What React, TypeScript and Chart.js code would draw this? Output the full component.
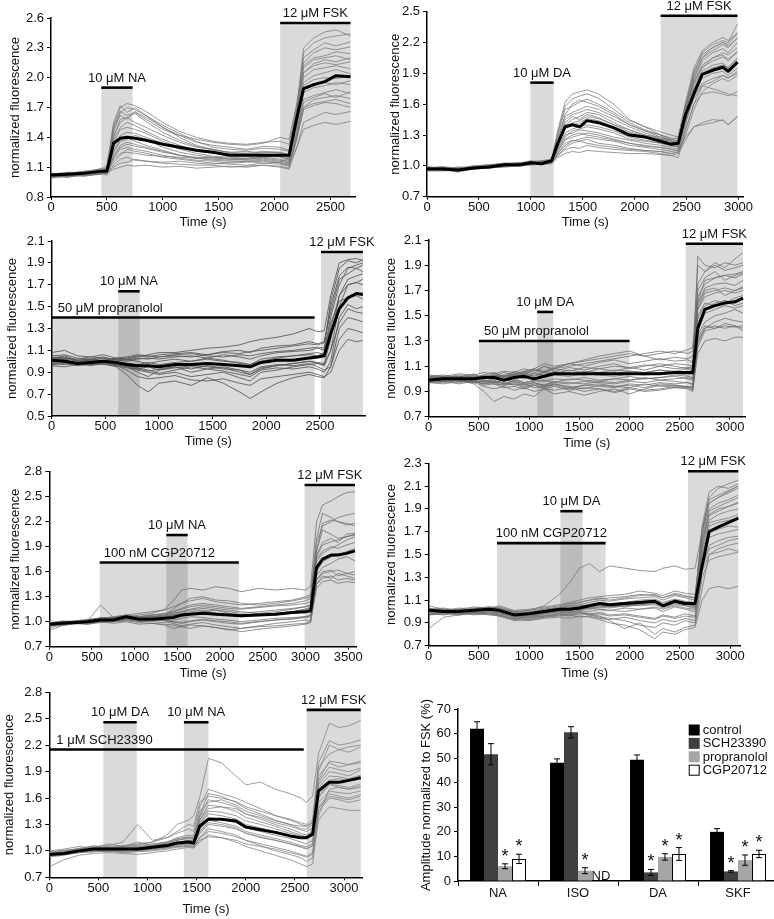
import React, { useEffect, useRef } from 'react';
import { Chart, registerables } from 'chart.js';

Chart.register(...registerables);

const FONT = '"Liberation Sans", Arial, Helvetica, sans-serif';
Chart.defaults.font.family = FONT;

// ---------------- Panel A: 10 µM NA (control) ----------------
const A_TIME = [0, 150, 300, 450, 500, 560, 620, 680, 750, 850, 1000, 1150, 1300, 1450, 1600, 1750, 1900, 2050, 2130, 2200, 2260, 2350, 2450, 2550, 2680];
const A_MEAN = [1.02, 1.03, 1.04, 1.06, 1.06, 1.34, 1.39, 1.40, 1.39, 1.37, 1.33, 1.30, 1.27, 1.25, 1.22, 1.22, 1.22, 1.22, 1.22, 1.60, 1.89, 1.93, 1.96, 2.02, 2.01];
const A_CELLS = [
  [1.00, 1.02, 1.05, 1.07, 1.10, 1.55, 1.72, 1.65, 1.70, 1.62, 1.50, 1.42, 1.35, 1.32, 1.30, 1.28, 1.31, 1.30, 1.27, 1.70, 2.30, 2.40, 2.46, 2.48, 2.42],
  [1.03, 1.04, 1.03, 1.06, 1.08, 1.40, 1.58, 1.60, 1.55, 1.50, 1.42, 1.35, 1.30, 1.28, 1.25, 1.24, 1.26, 1.25, 1.22, 1.65, 2.15, 2.25, 2.30, 2.28, 2.31],
  [1.00, 1.01, 1.03, 1.04, 1.02, 1.12, 1.18, 1.20, 1.17, 1.16, 1.15, 1.16, 1.14, 1.13, 1.15, 1.16, 1.14, 1.15, 1.13, 1.40, 1.70, 1.78, 1.80, 1.82, 1.79],
  [1.02, 1.00, 1.04, 1.05, 1.06, 1.30, 1.42, 1.45, 1.44, 1.40, 1.34, 1.28, 1.24, 1.21, 1.20, 1.19, 1.21, 1.20, 1.18, 1.55, 1.95, 2.02, 2.05, 2.08, 2.04],
  [1.01, 1.02, 1.02, 1.03, 1.05, 1.22, 1.32, 1.35, 1.33, 1.30, 1.26, 1.22, 1.20, 1.19, 1.18, 1.17, 1.18, 1.16, 1.14, 1.30, 1.48, 1.52, 1.55, 1.53, 1.56],
  [1.04, 1.03, 1.06, 1.08, 1.12, 1.50, 1.66, 1.62, 1.65, 1.58, 1.48, 1.42, 1.38, 1.35, 1.33, 1.32, 1.34, 1.40, 1.38, 1.75, 2.10, 2.18, 2.20, 2.22, 2.18],
  [1.00, 1.02, 1.01, 1.03, 1.04, 1.08, 1.10, 1.12, 1.11, 1.12, 1.10, 1.11, 1.09, 1.10, 1.11, 1.10, 1.12, 1.10, 1.08, 1.30, 1.55, 1.60, 1.65, 1.63, 1.66],
  [1.03, 1.05, 1.04, 1.09, 1.07, 1.38, 1.50, 1.55, 1.52, 1.46, 1.38, 1.32, 1.27, 1.24, 1.22, 1.21, 1.23, 1.22, 1.19, 1.52, 1.88, 1.92, 1.95, 1.93, 1.97],
  [1.02, 1.03, 1.02, 1.04, 1.06, 1.20, 1.28, 1.30, 1.28, 1.26, 1.22, 1.19, 1.17, 1.16, 1.14, 1.15, 1.16, 1.14, 1.12, 1.40, 1.68, 1.72, 1.75, 1.74, 1.70],
  [1.01, 1.00, 1.03, 1.05, 1.08, 1.45, 1.65, 1.70, 1.68, 1.62, 1.52, 1.44, 1.36, 1.30, 1.28, 1.27, 1.29, 1.28, 1.26, 1.68, 2.05, 2.12, 2.15, 2.13, 2.16],
  [1.02, 1.04, 1.05, 1.06, 1.09, 1.26, 1.38, 1.40, 1.36, 1.32, 1.27, 1.22, 1.19, 1.17, 1.16, 1.16, 1.17, 1.15, 1.20, 1.45, 1.78, 1.82, 1.85, 1.88, 1.84],
  [1.00, 1.01, 1.02, 1.03, 1.05, 1.18, 1.24, 1.25, 1.24, 1.22, 1.21, 1.20, 1.19, 1.20, 1.18, 1.19, 1.20, 1.18, 1.15, 1.65, 2.20, 2.28, 2.35, 2.32, 2.36],
  [1.01, 1.03, 1.02, 1.05, 1.07, 1.48, 1.62, 1.58, 1.66, 1.60, 1.50, 1.40, 1.32, 1.28, 1.24, 1.22, 1.25, 1.24, 1.21, 1.62, 2.12, 2.20, 2.22, 2.26, 2.24],
  [1.03, 1.02, 1.04, 1.07, 1.06, 1.25, 1.36, 1.38, 1.42, 1.38, 1.30, 1.25, 1.22, 1.20, 1.19, 1.18, 1.20, 1.21, 1.17, 1.50, 1.92, 1.98, 2.00, 1.99, 2.02],
  [0.99, 1.01, 1.03, 1.04, 1.05, 1.15, 1.22, 1.28, 1.26, 1.24, 1.20, 1.18, 1.16, 1.14, 1.13, 1.12, 1.14, 1.13, 1.11, 1.45, 1.85, 1.90, 1.92, 1.95, 1.93],
  [1.02, 1.04, 1.06, 1.05, 1.09, 1.52, 1.70, 1.74, 1.72, 1.66, 1.55, 1.46, 1.40, 1.36, 1.34, 1.33, 1.35, 1.36, 1.33, 1.72, 2.25, 2.35, 2.40, 2.42, 2.44],
  [1.00, 1.02, 1.01, 1.04, 1.06, 1.10, 1.14, 1.15, 1.18, 1.16, 1.14, 1.13, 1.12, 1.12, 1.10, 1.11, 1.12, 1.11, 1.09, 1.38, 1.70, 1.74, 1.76, 1.78, 1.74],
  [1.02, 1.03, 1.05, 1.06, 1.08, 1.35, 1.48, 1.50, 1.48, 1.44, 1.36, 1.30, 1.26, 1.24, 1.23, 1.24, 1.22, 1.23, 1.20, 1.58, 2.00, 2.08, 2.10, 2.12, 2.09],
  [1.01, 1.00, 1.02, 1.04, 1.03, 1.20, 1.30, 1.33, 1.31, 1.29, 1.25, 1.22, 1.19, 1.18, 1.17, 1.18, 1.19, 1.17, 1.16, 1.42, 1.75, 1.80, 1.84, 1.80, 1.86],
  [1.03, 1.04, 1.03, 1.05, 1.07, 1.42, 1.55, 1.60, 1.64, 1.56, 1.45, 1.37, 1.31, 1.27, 1.25, 1.26, 1.24, 1.25, 1.22, 1.60, 2.05, 2.14, 2.18, 2.16, 2.20],
];
const A_X_TICKS = [0, 500, 1000, 1500, 2000, 2500];
const A_Y_TICKS = [0.8, 1.1, 1.4, 1.7, 2.0, 2.3, 2.6];
const A_X_MAX = 2720;
const A_EVENTS = [
  { label: '10 μM NA', from: 450, to: 730, level: 1.9, shade: true, align: 'center' },
  { label: '12 μM FSK', from: 2050, to: 2680, level: 2.55, shade: true, align: 'center' },
];

// ---------------- Panel B: 10 µM DA (control) ----------------
const B_TIME = [0, 150, 300, 450, 600, 750, 900, 1000, 1100, 1200, 1260, 1330, 1400, 1470, 1540, 1650, 1800, 1950, 2100, 2250, 2350, 2420, 2490, 2570, 2650, 2750, 2850, 2900, 2990];
const B_MEAN = [0.97, 0.97, 0.96, 0.98, 0.99, 1.01, 1.01, 1.03, 1.02, 1.05, 1.22, 1.38, 1.40, 1.38, 1.44, 1.42, 1.37, 1.30, 1.28, 1.24, 1.21, 1.22, 1.50, 1.70, 1.89, 1.93, 1.96, 1.92, 2.01];
const B_CELLS = [
  [0.97, 0.98, 0.95, 0.99, 1.00, 1.02, 1.03, 1.04, 1.03, 1.06, 1.35, 1.62, 1.70, 1.72, 1.74, 1.70, 1.60, 1.45, 1.38, 1.30, 1.25, 1.28, 1.60, 1.85, 2.05, 2.15, 2.20, 2.18, 2.30],
  [0.99, 0.97, 0.98, 0.97, 1.00, 1.00, 1.02, 1.03, 1.04, 1.05, 1.30, 1.55, 1.58, 1.62, 1.65, 1.60, 1.52, 1.42, 1.35, 1.30, 1.26, 1.24, 1.55, 1.80, 1.95, 2.05, 2.10, 2.08, 2.15],
  [0.96, 0.96, 0.94, 0.97, 0.98, 1.00, 1.00, 1.01, 1.02, 1.03, 1.12, 1.22, 1.25, 1.24, 1.26, 1.22, 1.20, 1.17, 1.15, 1.14, 1.12, 1.13, 1.30, 1.55, 1.72, 1.80, 1.85, 1.82, 1.88],
  [0.98, 0.99, 0.97, 0.99, 1.01, 1.03, 1.02, 1.04, 1.03, 1.04, 1.20, 1.36, 1.40, 1.42, 1.46, 1.44, 1.38, 1.32, 1.28, 1.25, 1.22, 1.22, 1.48, 1.75, 1.90, 1.95, 1.98, 1.96, 2.05],
  [0.97, 0.96, 0.96, 0.98, 0.99, 1.00, 1.01, 1.02, 1.02, 1.03, 1.10, 1.16, 1.18, 1.17, 1.20, 1.18, 1.16, 1.15, 1.14, 1.12, 1.10, 1.12, 1.25, 1.38, 1.42, 1.45, 1.44, 1.40, 1.48],
  [0.98, 0.97, 0.99, 0.98, 1.00, 1.02, 1.02, 1.03, 1.05, 1.06, 1.28, 1.48, 1.52, 1.55, 1.58, 1.55, 1.48, 1.40, 1.34, 1.30, 1.27, 1.26, 1.58, 1.90, 2.10, 2.18, 2.22, 2.20, 2.38],
  [0.95, 0.95, 0.96, 0.97, 0.98, 0.99, 1.00, 1.02, 1.01, 1.02, 1.08, 1.12, 1.14, 1.13, 1.15, 1.14, 1.13, 1.12, 1.12, 1.11, 1.10, 1.08, 1.35, 1.60, 1.78, 1.82, 1.88, 1.85, 1.92],
  [0.97, 0.98, 0.96, 0.98, 0.99, 1.01, 1.02, 1.02, 1.03, 1.04, 1.25, 1.40, 1.45, 1.48, 1.52, 1.50, 1.42, 1.35, 1.30, 1.28, 1.24, 1.20, 1.45, 1.65, 1.78, 1.75, 1.72, 1.70, 1.68],
  [0.98, 0.99, 0.97, 1.00, 1.01, 1.02, 1.03, 1.05, 1.04, 1.06, 1.18, 1.30, 1.32, 1.35, 1.34, 1.32, 1.28, 1.25, 1.22, 1.20, 1.18, 1.20, 1.52, 1.82, 1.98, 2.05, 2.08, 2.02, 2.12],
  [0.96, 0.97, 0.95, 0.97, 0.99, 1.00, 1.01, 1.02, 1.03, 1.04, 1.15, 1.25, 1.28, 1.30, 1.32, 1.30, 1.26, 1.22, 1.20, 1.18, 1.16, 1.15, 1.40, 1.70, 1.85, 1.90, 1.92, 1.88, 1.95],
  [0.99, 0.98, 0.97, 0.99, 1.00, 1.01, 1.02, 1.03, 1.04, 1.05, 1.32, 1.58, 1.65, 1.68, 1.70, 1.66, 1.55, 1.44, 1.38, 1.33, 1.30, 1.28, 1.62, 1.95, 2.12, 2.20, 2.25, 2.22, 2.28],
  [0.97, 0.97, 0.96, 0.98, 0.99, 1.01, 1.01, 1.02, 1.02, 1.03, 1.12, 1.20, 1.24, 1.26, 1.28, 1.26, 1.24, 1.20, 1.18, 1.16, 1.14, 1.15, 1.28, 1.38, 1.40, 1.42, 1.45, 1.40, 1.48],
  [0.98, 0.97, 0.98, 0.99, 1.00, 1.01, 1.02, 1.03, 1.03, 1.05, 1.25, 1.45, 1.50, 1.52, 1.55, 1.52, 1.45, 1.38, 1.32, 1.27, 1.24, 1.23, 1.52, 1.85, 2.02, 2.10, 2.14, 2.10, 2.20],
  [0.96, 0.97, 0.95, 0.98, 0.99, 1.00, 1.01, 1.01, 1.02, 1.04, 1.18, 1.32, 1.36, 1.38, 1.40, 1.38, 1.34, 1.28, 1.25, 1.22, 1.20, 1.18, 1.45, 1.78, 1.92, 1.98, 2.00, 1.95, 2.04],
  [0.97, 0.98, 0.97, 0.98, 1.00, 1.01, 1.02, 1.02, 1.04, 1.05, 1.22, 1.42, 1.48, 1.45, 1.50, 1.47, 1.40, 1.33, 1.29, 1.26, 1.22, 1.25, 1.55, 1.88, 2.05, 2.12, 2.18, 2.15, 2.25],
  [0.99, 0.98, 0.97, 0.99, 1.00, 1.02, 1.02, 1.04, 1.03, 1.05, 1.14, 1.26, 1.30, 1.32, 1.30, 1.28, 1.25, 1.22, 1.19, 1.18, 1.16, 1.17, 1.42, 1.68, 1.80, 1.85, 1.88, 1.86, 1.90],
  [0.96, 0.96, 0.95, 0.97, 0.98, 0.99, 1.00, 1.01, 1.02, 1.03, 1.24, 1.50, 1.60, 1.64, 1.62, 1.58, 1.50, 1.40, 1.34, 1.28, 1.25, 1.22, 1.55, 1.82, 1.96, 2.02, 2.06, 2.04, 2.10],
  [0.98, 0.99, 0.98, 1.00, 1.01, 1.02, 1.03, 1.04, 1.05, 1.06, 1.16, 1.28, 1.34, 1.36, 1.38, 1.36, 1.32, 1.26, 1.24, 1.22, 1.20, 1.19, 1.50, 1.75, 1.88, 1.95, 1.98, 1.94, 2.00],
  [0.97, 0.96, 0.97, 0.98, 0.99, 1.00, 1.01, 1.02, 1.02, 1.04, 1.10, 1.18, 1.22, 1.24, 1.22, 1.20, 1.18, 1.16, 1.15, 1.14, 1.12, 1.14, 1.35, 1.60, 1.70, 1.72, 1.70, 1.68, 1.72],
  [0.98, 0.98, 0.97, 0.99, 1.00, 1.01, 1.02, 1.03, 1.03, 1.05, 1.20, 1.38, 1.42, 1.44, 1.48, 1.46, 1.40, 1.35, 1.30, 1.26, 1.24, 1.22, 1.58, 1.92, 2.08, 2.15, 2.20, 2.16, 2.24],
];
const B_X_TICKS = [0, 500, 1000, 1500, 2000, 2500, 3000];
const B_Y_TICKS = [0.7, 1.0, 1.3, 1.6, 1.9, 2.2, 2.5];
const B_X_MAX = 3050;
const B_EVENTS = [
  { label: '10 μM DA', from: 995, to: 1220, level: 1.81, shade: true, align: 'center' },
  { label: '12 μM FSK', from: 2250, to: 2990, level: 2.46, shade: true, align: 'center' },
];

// ---------------- Panel C: NA + 50 µM propranolol ----------------
const C_TIME = [0, 120, 240, 360, 480, 600, 700, 800, 900, 1000, 1150, 1300, 1450, 1600, 1750, 1850, 1950, 2100, 2250, 2400, 2480, 2540, 2600, 2680, 2760, 2840, 2900];
const C_MEAN = [1.01, 1.00, 0.98, 0.99, 1.00, 0.99, 0.97, 0.96, 0.96, 0.95, 0.97, 0.97, 0.98, 0.97, 0.96, 0.95, 0.99, 1.01, 1.01, 1.03, 1.04, 1.05, 1.25, 1.48, 1.58, 1.62, 1.61];
const C_CELLS = [
  [1.02, 1.04, 1.00, 1.01, 1.03, 1.00, 1.02, 1.04, 1.06, 1.08, 1.08, 1.10, 1.12, 1.13, 1.15, 1.18, 1.20, 1.22, 1.25, 1.30, 1.27, 1.28, 1.60, 1.90, 1.93, 1.94, 1.92],
  [0.98, 0.97, 0.99, 0.96, 0.98, 0.95, 0.88, 0.78, 0.72, 0.80, 0.82, 0.78, 0.85, 0.80, 0.72, 0.66, 0.72, 0.80, 0.85, 0.88, 0.86, 0.85, 0.95, 1.30, 1.40, 1.38, 1.36],
  [1.00, 1.02, 0.97, 0.98, 0.99, 0.97, 0.95, 0.92, 0.90, 0.88, 0.90, 0.86, 0.88, 0.90, 0.85, 0.82, 0.90, 0.92, 0.95, 0.97, 0.98, 0.96, 1.10, 1.50, 1.70, 1.72, 1.75],
  [1.03, 1.05, 1.01, 1.02, 1.00, 1.02, 1.03, 1.05, 1.04, 1.06, 1.07, 1.08, 1.06, 1.09, 1.10, 1.08, 1.12, 1.14, 1.15, 1.18, 1.16, 1.18, 1.45, 1.75, 1.80, 1.85, 1.82],
  [0.97, 0.98, 0.96, 0.97, 0.99, 0.96, 0.92, 0.86, 0.84, 0.85, 0.87, 0.83, 0.82, 0.84, 0.80, 0.78, 0.84, 0.86, 0.88, 0.90, 0.88, 0.86, 0.90, 1.10, 1.20, 1.18, 1.19],
  [1.05, 1.06, 1.03, 1.02, 1.04, 1.01, 1.00, 1.02, 1.03, 1.02, 1.04, 1.05, 1.03, 1.06, 1.04, 1.02, 1.05, 1.08, 1.09, 1.10, 1.12, 1.10, 1.40, 1.70, 1.85, 1.88, 1.90],
  [0.99, 1.00, 0.98, 0.97, 0.98, 0.97, 0.95, 0.90, 0.86, 0.92, 0.95, 0.90, 0.93, 0.95, 0.92, 0.88, 0.94, 0.96, 0.98, 1.00, 0.98, 0.97, 1.10, 1.35, 1.48, 1.45, 1.44],
  [1.08, 1.10, 1.05, 1.04, 1.06, 1.03, 1.02, 1.00, 0.98, 1.00, 1.02, 1.00, 1.03, 1.01, 0.98, 0.97, 1.00, 1.03, 1.05, 1.07, 1.08, 1.06, 1.30, 1.60, 1.70, 1.72, 1.70],
  [0.96, 0.95, 0.97, 0.98, 0.97, 0.96, 0.94, 0.93, 0.95, 0.92, 0.94, 0.96, 0.95, 0.93, 0.92, 0.90, 0.95, 0.97, 0.96, 0.98, 0.95, 0.92, 0.95, 1.20, 1.30, 1.28, 1.26],
  [1.01, 1.02, 1.00, 1.01, 1.00, 0.99, 0.98, 0.97, 0.99, 0.97, 0.99, 1.00, 1.02, 1.00, 0.99, 0.97, 1.02, 1.04, 1.05, 1.06, 1.05, 1.08, 1.35, 1.55, 1.58, 1.60, 1.57],
  [0.98, 0.99, 0.97, 1.00, 0.99, 0.98, 0.96, 0.94, 0.92, 0.89, 0.92, 0.95, 0.93, 0.91, 0.88, 0.86, 0.92, 0.94, 0.93, 0.95, 0.93, 0.90, 1.00, 1.40, 1.52, 1.48, 1.50],
  [1.02, 1.03, 1.01, 1.02, 1.01, 1.03, 1.04, 1.06, 1.05, 1.04, 1.06, 1.07, 1.05, 1.04, 1.06, 1.05, 1.07, 1.09, 1.10, 1.12, 1.13, 1.12, 1.55, 1.85, 1.92, 1.90, 1.93],
  [1.00, 1.01, 0.99, 1.00, 1.01, 0.99, 0.96, 0.93, 0.91, 0.93, 0.95, 0.93, 0.96, 0.94, 0.90, 0.88, 0.93, 0.96, 0.98, 1.00, 0.99, 0.98, 1.20, 1.60, 1.75, 1.78, 1.80],
  [1.04, 1.03, 1.02, 1.04, 1.03, 1.02, 1.01, 1.03, 1.02, 1.04, 1.05, 1.04, 1.06, 1.08, 1.07, 1.09, 1.10, 1.12, 1.14, 1.16, 1.15, 1.17, 1.50, 1.78, 1.86, 1.85, 1.88],
];
const C_X_TICKS = [0, 500, 1000, 1500, 2000, 2500];
const C_Y_TICKS = [0.5, 0.7, 0.9, 1.1, 1.3, 1.5, 1.7, 1.9, 2.1];
const C_X_MAX = 2920;
const C_EVENTS = [
  { label: '50 μM propranolol', from: 0, to: 2450, level: 1.40, shade: true, align: 'left', inset: 6 },
  { label: '10 μM NA', from: 620, to: 820, level: 1.64, shade: true, align: 'center' },
  { label: '12 μM FSK', from: 2510, to: 2900, level: 2.0, shade: true, align: 'center' },
];

// ---------------- Panel D: DA + 50 µM propranolol ----------------
const D_TIME = [0, 150, 300, 450, 550, 650, 750, 850, 950, 1050, 1150, 1250, 1400, 1550, 1700, 1850, 2000, 2150, 2300, 2450, 2580, 2630, 2680, 2750, 2850, 2950, 3050, 3130];
const D_MEAN = [0.99, 1.00, 1.00, 1.00, 1.01, 1.01, 0.99, 1.01, 1.02, 1.00, 1.02, 1.04, 1.04, 1.04, 1.04, 1.04, 1.04, 1.04, 1.04, 1.05, 1.05, 1.05, 1.40, 1.55, 1.58, 1.60, 1.61, 1.64];
const D_CELLS = [
  [1.00, 1.02, 0.99, 1.01, 1.03, 1.05, 1.02, 1.04, 1.06, 1.08, 1.12, 1.10, 1.12, 1.15, 1.18, 1.20, 1.22, 1.18, 1.20, 1.22, 1.20, 1.22, 1.90, 1.85, 1.92, 1.88, 1.95, 2.00],
  [0.98, 0.97, 0.99, 0.96, 0.90, 0.82, 0.86, 0.84, 0.88, 0.86, 0.92, 0.88, 0.90, 0.87, 0.90, 0.92, 0.88, 0.92, 0.95, 0.93, 0.94, 0.92, 1.20, 1.30, 1.32, 1.30, 1.33, 1.33],
  [1.02, 1.03, 1.01, 1.04, 1.00, 1.02, 1.05, 1.03, 1.06, 1.04, 1.10, 1.06, 1.09, 1.07, 1.10, 1.12, 1.08, 1.10, 1.12, 1.10, 1.08, 1.10, 1.65, 1.75, 1.80, 1.82, 1.83, 1.85],
  [0.97, 0.98, 0.96, 0.98, 0.96, 0.98, 0.97, 0.95, 0.96, 0.93, 0.94, 0.95, 0.92, 0.95, 0.94, 0.93, 0.96, 0.95, 0.97, 0.96, 0.97, 0.95, 1.30, 1.40, 1.42, 1.40, 1.42, 1.40],
  [1.01, 1.00, 1.02, 1.01, 1.03, 1.02, 1.00, 1.03, 1.05, 1.08, 1.06, 1.09, 1.12, 1.14, 1.16, 1.18, 1.20, 1.18, 1.15, 1.17, 1.16, 1.18, 1.55, 1.68, 1.70, 1.72, 1.70, 1.73],
  [0.99, 1.01, 0.98, 1.00, 0.99, 0.97, 0.99, 0.98, 0.96, 0.97, 0.95, 0.98, 0.97, 0.96, 0.98, 0.97, 0.99, 1.00, 1.01, 1.02, 1.00, 0.99, 1.50, 1.60, 1.58, 1.62, 1.60, 1.63],
  [0.98, 0.99, 1.00, 0.99, 1.01, 1.03, 1.02, 1.04, 1.01, 1.05, 1.03, 1.06, 1.04, 1.03, 1.05, 1.07, 1.06, 1.05, 1.07, 1.06, 1.08, 1.06, 1.70, 1.80, 1.85, 1.78, 1.82, 1.84],
  [1.01, 1.00, 0.99, 0.98, 0.95, 0.96, 0.93, 0.94, 0.92, 0.95, 0.93, 0.96, 0.94, 0.92, 0.95, 0.94, 0.93, 0.96, 0.94, 0.95, 0.93, 0.94, 1.35, 1.45, 1.50, 1.52, 1.55, 1.52],
  [1.00, 1.01, 1.02, 1.00, 1.02, 1.01, 1.03, 1.02, 1.04, 1.02, 1.05, 1.03, 1.02, 1.04, 1.03, 1.02, 1.04, 1.03, 1.05, 1.04, 1.03, 1.04, 1.97, 1.90, 1.88, 1.92, 1.90, 1.92],
  [0.99, 0.98, 1.00, 0.97, 0.99, 0.98, 0.96, 0.99, 0.97, 0.98, 0.99, 0.97, 1.00, 0.99, 0.98, 1.00, 0.99, 1.01, 0.99, 1.00, 1.01, 1.00, 1.45, 1.55, 1.60, 1.62, 1.58, 1.60],
  [1.02, 1.01, 1.03, 1.02, 1.00, 1.03, 1.01, 1.05, 1.03, 1.07, 1.05, 1.08, 1.10, 1.12, 1.14, 1.16, 1.18, 1.20, 1.22, 1.20, 1.23, 1.25, 1.60, 1.72, 1.75, 1.76, 1.74, 1.78],
  [0.97, 0.96, 0.98, 0.97, 0.94, 0.92, 0.94, 0.91, 0.93, 0.90, 0.92, 0.91, 0.93, 0.90, 0.92, 0.89, 0.92, 0.90, 0.91, 0.93, 0.92, 0.90, 1.25, 1.38, 1.40, 1.42, 1.41, 1.42],
  [1.00, 0.99, 1.01, 1.02, 1.00, 1.02, 1.01, 1.03, 1.00, 1.04, 1.02, 1.05, 1.03, 1.06, 1.05, 1.04, 1.06, 1.05, 1.07, 1.05, 1.06, 1.05, 1.55, 1.65, 1.68, 1.70, 1.68, 1.70],
  [0.98, 1.00, 0.99, 0.97, 0.98, 0.96, 0.95, 0.97, 0.94, 0.96, 0.95, 0.97, 0.96, 0.98, 0.97, 0.96, 0.98, 0.97, 0.99, 0.98, 0.97, 0.96, 1.38, 1.52, 1.55, 1.58, 1.56, 1.58],
  [1.03, 1.02, 1.04, 1.03, 1.05, 1.04, 1.06, 1.05, 1.08, 1.06, 1.10, 1.08, 1.12, 1.10, 1.13, 1.15, 1.12, 1.14, 1.16, 1.14, 1.15, 1.13, 1.75, 1.85, 1.90, 1.86, 1.88, 1.90],
  [0.99, 1.00, 0.98, 0.99, 0.97, 0.99, 0.96, 0.98, 0.95, 0.97, 0.94, 0.96, 0.93, 0.95, 0.96, 0.94, 0.95, 0.93, 0.96, 0.95, 0.94, 0.93, 1.28, 1.40, 1.45, 1.48, 1.46, 1.45],
  [1.01, 1.02, 1.00, 1.03, 1.01, 1.04, 1.02, 1.06, 1.04, 1.07, 1.05, 1.08, 1.06, 1.09, 1.08, 1.10, 1.09, 1.11, 1.10, 1.12, 1.11, 1.10, 1.62, 1.78, 1.80, 1.82, 1.80, 1.83],
  [0.97, 0.98, 0.99, 0.98, 0.96, 0.97, 0.95, 0.96, 0.93, 0.95, 0.92, 0.94, 0.91, 0.93, 0.92, 0.90, 0.93, 0.91, 0.92, 0.94, 0.93, 0.91, 1.32, 1.42, 1.40, 1.44, 1.42, 1.38],
  [1.02, 1.01, 1.02, 1.00, 1.02, 1.00, 1.03, 1.01, 1.05, 1.02, 1.06, 1.04, 1.07, 1.05, 1.08, 1.06, 1.09, 1.07, 1.10, 1.08, 1.09, 1.08, 1.58, 1.70, 1.72, 1.66, 1.70, 1.72],
  [0.98, 0.99, 0.97, 0.99, 0.98, 1.00, 0.98, 1.00, 0.97, 0.99, 0.98, 1.00, 0.99, 1.01, 0.99, 1.00, 1.02, 1.00, 1.01, 1.03, 1.02, 1.01, 1.48, 1.58, 1.62, 1.60, 1.64, 1.66],
];
const D_X_TICKS = [0, 500, 1000, 1500, 2000, 2500, 3000];
const D_Y_TICKS = [0.7, 0.9, 1.1, 1.3, 1.5, 1.7, 1.9, 2.1];
const D_X_MAX = 3150;
const D_EVENTS = [
  { label: '50 μM propranolol', from: 500, to: 2000, level: 1.30, shade: true, align: 'left', inset: 5 },
  { label: '10 μM DA', from: 1080, to: 1240, level: 1.53, shade: true, align: 'center' },
  { label: '12 μM FSK', from: 2560, to: 3130, level: 2.07, shade: true, align: 'center' },
];

// ---------------- Panel E: NA + 100 nM CGP20712 ----------------
const E_TIME = [0, 150, 300, 450, 600, 750, 900, 1050, 1200, 1350, 1450, 1550, 1650, 1800, 1950, 2100, 2250, 2450, 2650, 2850, 3000, 3060, 3130, 3200, 3300, 3380, 3480, 3580];
const E_MEAN = [0.97, 0.98, 0.99, 1.00, 1.02, 1.02, 1.06, 1.03, 1.03, 1.04, 1.05, 1.08, 1.09, 1.10, 1.09, 1.08, 1.07, 1.08, 1.09, 1.11, 1.12, 1.13, 1.65, 1.75, 1.80, 1.80, 1.82, 1.85];
const E_CELLS = [
  [0.95, 0.97, 1.00, 0.99, 1.02, 1.04, 1.05, 1.08, 1.10, 1.15, 1.25, 1.38, 1.40, 1.38, 1.42, 1.40, 1.36, 1.40, 1.38, 1.40, 1.38, 1.42, 2.20, 2.40, 2.45, 2.50, 2.55, 2.56],
  [0.97, 0.99, 0.98, 1.01, 1.03, 1.02, 1.05, 1.04, 1.06, 1.07, 1.15, 1.22, 1.28, 1.30, 1.26, 1.25, 1.22, 1.20, 1.22, 1.25, 1.28, 1.30, 1.95, 2.15, 2.20, 2.25, 2.28, 2.30],
  [0.90, 0.95, 0.98, 0.97, 1.00, 0.98, 1.00, 0.97, 0.98, 0.96, 0.92, 0.94, 0.96, 0.95, 0.93, 0.90, 0.92, 0.94, 0.95, 0.97, 0.98, 1.00, 1.40, 1.48, 1.50, 1.46, 1.48, 1.47],
  [0.98, 1.00, 0.99, 1.02, 1.04, 1.05, 1.08, 1.06, 1.08, 1.10, 1.12, 1.15, 1.18, 1.20, 1.18, 1.16, 1.15, 1.17, 1.19, 1.20, 1.22, 1.24, 1.80, 1.95, 2.00, 1.95, 2.05, 2.06],
  [0.96, 0.98, 0.97, 0.99, 1.00, 1.01, 1.03, 1.00, 1.01, 1.02, 1.00, 0.98, 1.00, 1.02, 1.00, 0.98, 0.97, 1.00, 1.02, 1.03, 1.05, 1.06, 1.45, 1.55, 1.52, 1.58, 1.55, 1.52],
  [0.97, 0.99, 1.01, 1.00, 1.05, 1.03, 1.07, 1.05, 1.06, 1.08, 1.10, 1.12, 1.15, 1.18, 1.16, 1.14, 1.12, 1.10, 1.08, 1.12, 1.15, 1.18, 1.75, 1.85, 1.90, 1.88, 1.92, 1.95],
  [0.93, 0.96, 0.98, 0.99, 1.01, 1.02, 1.04, 1.02, 1.03, 1.01, 0.98, 0.95, 0.97, 0.99, 0.96, 0.94, 0.92, 0.95, 0.98, 1.00, 1.02, 1.01, 1.50, 1.60, 1.62, 1.55, 1.58, 1.60],
  [0.98, 1.00, 1.01, 1.03, 1.04, 1.06, 1.08, 1.10, 1.12, 1.14, 1.18, 1.22, 1.25, 1.28, 1.24, 1.22, 1.20, 1.22, 1.24, 1.26, 1.30, 1.32, 2.00, 2.30, 2.25, 2.20, 2.18, 2.15],
  [0.96, 0.97, 0.99, 0.98, 1.00, 1.00, 1.02, 1.01, 1.00, 0.99, 1.02, 1.04, 1.06, 1.05, 1.03, 1.02, 1.00, 1.02, 1.04, 1.05, 1.06, 1.08, 1.55, 1.65, 1.70, 1.75, 1.78, 1.73],
  [0.99, 1.01, 1.00, 1.02, 1.05, 1.04, 1.06, 1.05, 1.07, 1.06, 1.08, 1.10, 1.12, 1.14, 1.10, 1.08, 1.06, 1.08, 1.10, 1.12, 1.15, 1.16, 1.72, 1.82, 1.88, 1.92, 1.98, 2.02],
  [0.95, 0.96, 0.98, 0.97, 0.99, 1.00, 1.01, 0.99, 0.98, 0.97, 0.96, 0.94, 0.92, 0.95, 0.93, 0.91, 0.88, 0.91, 0.93, 0.95, 0.97, 0.99, 1.45, 1.52, 1.55, 1.50, 1.52, 1.50],
  [0.97, 0.98, 1.00, 1.01, 1.20, 1.05, 1.06, 1.04, 1.05, 1.06, 1.08, 1.06, 1.10, 1.12, 1.14, 1.10, 1.08, 1.10, 1.12, 1.15, 1.18, 1.20, 1.85, 2.10, 2.05, 2.00, 2.02, 2.04],
  [0.96, 0.98, 0.99, 1.00, 1.02, 1.03, 1.05, 1.04, 1.05, 1.06, 1.06, 1.08, 1.10, 1.12, 1.10, 1.08, 1.06, 1.08, 1.10, 1.12, 1.14, 1.15, 1.60, 1.72, 1.78, 1.80, 1.84, 1.88],
  [0.98, 0.99, 1.00, 1.02, 1.03, 1.05, 1.07, 1.06, 1.08, 1.09, 1.12, 1.16, 1.20, 1.22, 1.20, 1.18, 1.16, 1.18, 1.20, 1.22, 1.25, 1.28, 1.85, 2.18, 2.22, 2.20, 2.16, 2.18],
  [0.95, 0.97, 0.98, 0.99, 1.01, 1.01, 1.03, 1.02, 1.03, 1.02, 1.00, 0.99, 1.01, 1.03, 1.01, 1.00, 0.98, 1.00, 1.02, 1.04, 1.06, 1.07, 1.50, 1.58, 1.60, 1.62, 1.58, 1.56],
  [0.97, 0.98, 1.00, 1.01, 1.03, 1.04, 1.06, 1.05, 1.06, 1.07, 1.09, 1.12, 1.14, 1.16, 1.14, 1.12, 1.10, 1.12, 1.14, 1.16, 1.18, 1.20, 1.78, 1.92, 1.96, 1.98, 2.02, 2.05],
];
const E_X_TICKS = [0, 500, 1000, 1500, 2000, 2500, 3000, 3500];
const E_Y_TICKS = [0.7, 1.0, 1.3, 1.6, 1.9, 2.2, 2.5, 2.8];
const E_X_MAX = 3600;
const E_EVENTS = [
  { label: '100 nM CGP20712', from: 590, to: 2220, level: 1.71, shade: true, align: 'left', inset: 4 },
  { label: '10 μM NA', from: 1370, to: 1620, level: 2.04, shade: true, align: 'center' },
  { label: '12 μM FSK', from: 2990, to: 3580, level: 2.64, shade: true, align: 'center' },
];

// ---------------- Panel F: DA + 100 nM CGP20712 ----------------
const F_TIME = [0, 150, 300, 450, 600, 700, 850, 1000, 1150, 1300, 1400, 1500, 1600, 1700, 1800, 1950, 2100, 2250, 2330, 2450, 2550, 2650, 2720, 2790, 2880, 2980, 3080];
const F_MEAN = [1.01, 1.00, 1.00, 1.01, 1.02, 1.01, 0.97, 0.98, 1.00, 1.02, 1.02, 1.03, 1.05, 1.07, 1.06, 1.07, 1.08, 1.09, 1.05, 1.09, 1.07, 1.07, 1.40, 1.70, 1.74, 1.78, 1.82];
const F_CELLS = [
  [1.00, 1.01, 1.02, 1.00, 1.03, 1.02, 1.00, 1.01, 1.05, 1.15, 1.25, 1.38, 1.42, 1.35, 1.40, 1.38, 1.36, 1.35, 1.38, 1.40, 1.37, 1.38, 1.70, 1.95, 2.00, 2.05, 2.10],
  [1.05, 1.02, 1.00, 1.02, 1.01, 1.04, 1.00, 0.99, 1.02, 1.04, 1.06, 1.08, 1.10, 1.12, 1.10, 1.12, 1.14, 1.15, 1.12, 1.16, 1.14, 1.12, 1.70, 2.00, 2.08, 2.12, 2.15],
  [0.85, 0.95, 0.97, 0.99, 0.98, 1.00, 0.95, 0.94, 0.96, 0.98, 0.97, 0.99, 0.98, 0.96, 0.92, 0.85, 0.90, 0.80, 0.85, 0.82, 0.86, 0.88, 1.20, 1.50, 1.55, 1.58, 1.60],
  [1.00, 0.99, 1.01, 0.98, 1.00, 0.99, 0.96, 0.95, 0.98, 1.00, 1.01, 1.03, 1.02, 1.04, 1.05, 1.04, 1.06, 1.07, 1.05, 1.08, 1.06, 1.05, 1.60, 1.85, 1.90, 1.92, 1.95],
  [0.98, 0.97, 0.99, 0.97, 0.98, 0.97, 0.93, 0.92, 0.94, 0.95, 0.94, 0.96, 0.95, 0.93, 0.90, 0.88, 0.84, 0.76, 0.82, 0.80, 0.84, 0.86, 1.10, 1.20, 1.22, 1.20, 1.22],
  [1.02, 1.03, 1.01, 1.03, 1.04, 1.03, 0.99, 1.00, 1.02, 1.03, 1.05, 1.06, 1.08, 1.10, 1.09, 1.11, 1.12, 1.13, 1.10, 1.14, 1.12, 1.10, 1.75, 2.05, 2.10, 2.08, 2.12],
  [0.99, 1.00, 0.98, 1.00, 0.99, 0.98, 0.95, 0.96, 0.97, 0.99, 1.00, 1.01, 1.00, 1.02, 1.01, 1.00, 1.02, 1.03, 1.00, 1.04, 1.02, 1.00, 1.50, 1.70, 1.72, 1.75, 1.74],
  [1.01, 1.02, 1.00, 1.01, 1.02, 1.00, 0.97, 0.98, 0.99, 1.01, 1.03, 1.02, 1.04, 1.06, 1.04, 1.05, 1.07, 1.08, 1.06, 1.08, 1.07, 1.05, 1.55, 1.78, 1.80, 1.82, 1.85],
  [0.97, 0.98, 0.99, 0.98, 1.00, 0.97, 0.94, 0.93, 0.95, 0.96, 0.97, 0.95, 0.96, 0.94, 0.93, 0.95, 0.92, 0.90, 0.93, 0.91, 0.94, 0.92, 1.35, 1.50, 1.52, 1.55, 1.53],
  [1.03, 1.01, 1.02, 1.04, 1.03, 1.05, 1.01, 1.02, 1.04, 1.06, 1.08, 1.10, 1.12, 1.13, 1.14, 1.15, 1.18, 1.16, 1.14, 1.18, 1.16, 1.15, 1.65, 1.90, 1.95, 1.98, 2.02],
  [1.00, 1.00, 1.01, 0.99, 1.01, 1.00, 0.98, 0.97, 0.99, 1.00, 0.99, 1.01, 1.03, 1.02, 1.01, 1.03, 1.02, 1.04, 1.02, 1.05, 1.03, 1.02, 1.45, 1.65, 1.68, 1.70, 1.72],
  [0.98, 0.99, 0.97, 0.99, 0.98, 0.96, 0.93, 0.95, 0.96, 0.98, 0.99, 1.00, 0.98, 0.99, 0.97, 0.98, 0.96, 0.94, 0.97, 0.95, 0.98, 0.96, 1.40, 1.58, 1.62, 1.65, 1.66],
  [1.01, 1.00, 1.02, 1.01, 1.02, 1.01, 0.98, 0.99, 1.01, 1.03, 1.04, 1.05, 1.06, 1.08, 1.07, 1.08, 1.10, 1.11, 1.08, 1.11, 1.09, 1.08, 1.60, 1.88, 1.92, 1.96, 2.00],
  [0.99, 0.98, 1.00, 0.99, 1.00, 0.98, 0.96, 0.97, 0.98, 1.00, 1.01, 1.02, 1.03, 1.04, 1.03, 1.05, 1.06, 1.07, 1.04, 1.07, 1.05, 1.04, 1.52, 1.75, 1.78, 1.80, 1.82],
  [1.02, 1.01, 1.00, 1.02, 1.01, 1.02, 0.99, 0.98, 1.00, 1.01, 1.02, 1.04, 1.05, 1.06, 1.05, 1.06, 1.08, 1.09, 1.06, 1.10, 1.08, 1.06, 1.68, 1.95, 2.00, 2.04, 2.08],
  [0.97, 0.98, 0.97, 0.98, 0.97, 0.96, 0.92, 0.93, 0.95, 0.97, 0.96, 0.98, 0.97, 0.95, 0.94, 0.92, 0.88, 0.86, 0.90, 0.88, 0.92, 0.90, 1.30, 1.45, 1.48, 1.50, 1.52],
  [1.00, 1.01, 0.99, 1.00, 1.01, 0.99, 0.97, 0.96, 0.98, 1.00, 1.02, 1.03, 1.04, 1.05, 1.04, 1.06, 1.05, 1.06, 1.03, 1.06, 1.05, 1.03, 1.58, 1.80, 1.85, 1.88, 1.90],
  [1.01, 1.02, 1.01, 1.02, 1.03, 1.02, 0.98, 0.99, 1.01, 1.02, 1.03, 1.04, 1.06, 1.07, 1.06, 1.08, 1.09, 1.10, 1.07, 1.10, 1.08, 1.07, 1.62, 1.84, 1.88, 1.92, 1.96],
  [0.98, 0.99, 0.98, 0.99, 0.98, 0.97, 0.94, 0.95, 0.96, 0.97, 0.98, 0.99, 0.97, 0.98, 0.96, 0.97, 0.95, 0.93, 0.96, 0.94, 0.96, 0.95, 1.38, 1.55, 1.58, 1.62, 1.64],
  [1.02, 1.01, 1.03, 1.02, 1.04, 1.03, 1.00, 1.01, 1.03, 1.05, 1.07, 1.08, 1.10, 1.11, 1.12, 1.13, 1.15, 1.14, 1.12, 1.15, 1.13, 1.12, 1.72, 1.98, 2.02, 2.06, 2.10],
];
const F_X_TICKS = [0, 500, 1000, 1500, 2000, 2500, 3000];
const F_Y_TICKS = [0.7, 0.9, 1.1, 1.3, 1.5, 1.7, 1.9, 2.1, 2.3];
const F_X_MAX = 3100;
const F_EVENTS = [
  { label: '100 nM CGP20712', from: 680, to: 1760, level: 1.60, shade: true, align: 'center' },
  { label: '10 μM DA', from: 1310, to: 1530, level: 1.88, shade: true, align: 'center' },
  { label: '12 μM FSK', from: 2580, to: 3080, level: 2.23, shade: true, align: 'center' },
];

// ---------------- Panel G: DA, NA + 1 µM SCH23390 ----------------
const G_TIME = [0, 150, 300, 450, 600, 750, 900, 1050, 1200, 1300, 1420, 1470, 1530, 1620, 1750, 1900, 2000, 2150, 2300, 2450, 2560, 2620, 2680, 2740, 2850, 2950, 3050, 3170];
const G_MEAN = [0.96, 0.97, 1.00, 1.02, 1.02, 1.02, 1.02, 1.04, 1.06, 1.09, 1.10, 1.09, 1.28, 1.36, 1.36, 1.34, 1.27, 1.24, 1.21, 1.17, 1.15, 1.15, 1.19, 1.68, 1.78, 1.78, 1.80, 1.83];
const G_CELLS = [
  [0.95, 0.98, 1.02, 1.04, 1.05, 1.06, 1.07, 1.10, 1.18, 1.30, 1.35, 1.40, 1.60, 2.05, 2.00, 1.85, 1.75, 1.78, 1.70, 1.65, 1.60, 1.55, 1.62, 2.10, 2.45, 2.40, 2.42, 2.48],
  [0.97, 0.98, 1.01, 1.03, 1.04, 1.02, 1.03, 1.05, 1.08, 1.12, 1.15, 1.14, 1.40, 1.65, 1.62, 1.55, 1.48, 1.42, 1.35, 1.30, 1.25, 1.25, 1.30, 1.90, 2.20, 2.15, 2.18, 2.20],
  [0.82, 0.90, 0.95, 0.97, 0.98, 0.97, 0.96, 0.98, 1.00, 1.02, 1.04, 1.03, 1.10, 1.18, 1.15, 1.10, 1.05, 1.00, 0.95, 0.90, 0.85, 0.82, 0.85, 1.40, 1.70, 1.72, 1.70, 1.74],
  [1.00, 1.02, 1.05, 1.03, 1.08, 1.05, 1.10, 1.06, 1.10, 1.15, 1.18, 1.17, 1.45, 1.55, 1.58, 1.52, 1.45, 1.40, 1.34, 1.30, 1.28, 1.28, 1.32, 1.85, 2.00, 1.95, 1.98, 2.00],
  [0.93, 0.95, 0.98, 0.99, 1.00, 1.01, 1.00, 1.02, 1.04, 1.06, 1.08, 1.07, 1.20, 1.30, 1.28, 1.25, 1.20, 1.15, 1.12, 1.08, 1.05, 1.03, 1.06, 1.50, 1.65, 1.62, 1.60, 1.64],
  [0.98, 1.00, 1.03, 1.05, 1.06, 1.10, 1.30, 1.12, 1.15, 1.20, 1.25, 1.22, 1.50, 1.70, 1.65, 1.60, 1.55, 1.48, 1.40, 1.36, 1.32, 1.30, 1.35, 1.95, 2.10, 2.15, 2.12, 2.18],
  [0.96, 0.97, 0.99, 1.01, 1.00, 0.98, 0.99, 1.00, 1.02, 1.04, 1.05, 1.04, 1.15, 1.22, 1.20, 1.16, 1.12, 1.06, 1.00, 0.96, 0.92, 0.88, 0.92, 1.35, 1.50, 1.48, 1.46, 1.46],
  [0.95, 0.98, 1.00, 1.02, 1.03, 1.04, 1.05, 1.07, 1.10, 1.14, 1.16, 1.15, 1.35, 1.48, 1.50, 1.48, 1.42, 1.38, 1.32, 1.28, 1.24, 1.22, 1.26, 1.75, 1.90, 1.88, 1.85, 1.92],
  [0.99, 1.01, 1.02, 1.04, 1.02, 1.03, 1.04, 1.06, 1.08, 1.10, 1.12, 1.11, 1.30, 1.42, 1.40, 1.36, 1.30, 1.26, 1.22, 1.18, 1.15, 1.14, 1.18, 1.70, 1.80, 1.82, 1.80, 1.85],
  [0.94, 0.96, 0.98, 1.00, 0.99, 1.00, 1.01, 1.03, 1.05, 1.08, 1.10, 1.09, 1.25, 1.35, 1.32, 1.28, 1.22, 1.18, 1.14, 1.10, 1.06, 1.05, 1.08, 1.60, 1.75, 1.72, 1.70, 1.72],
  [0.97, 0.99, 1.02, 1.06, 1.03, 1.05, 1.08, 1.10, 1.15, 1.22, 1.30, 1.28, 1.55, 1.62, 1.60, 1.56, 1.50, 1.45, 1.40, 1.35, 1.30, 1.28, 1.32, 2.00, 2.25, 2.20, 2.22, 2.26],
  [0.96, 0.98, 1.00, 1.01, 1.01, 1.02, 1.02, 1.03, 1.04, 1.05, 1.06, 1.05, 1.12, 1.16, 1.15, 1.12, 1.08, 1.05, 1.02, 0.98, 0.95, 0.93, 0.96, 1.45, 1.60, 1.58, 1.55, 1.58],
  [0.97, 0.99, 1.01, 1.02, 1.03, 1.02, 1.03, 1.05, 1.08, 1.10, 1.12, 1.11, 1.32, 1.45, 1.44, 1.40, 1.34, 1.30, 1.25, 1.20, 1.17, 1.16, 1.20, 1.72, 1.85, 1.84, 1.82, 1.86],
  [0.95, 0.97, 0.99, 1.00, 1.01, 1.00, 1.01, 1.02, 1.04, 1.07, 1.08, 1.07, 1.22, 1.32, 1.30, 1.26, 1.20, 1.16, 1.12, 1.08, 1.04, 1.02, 1.06, 1.55, 1.68, 1.66, 1.65, 1.68],
  [0.98, 1.00, 1.02, 1.03, 1.04, 1.05, 1.06, 1.08, 1.10, 1.13, 1.15, 1.14, 1.38, 1.58, 1.55, 1.50, 1.42, 1.36, 1.30, 1.25, 1.20, 1.18, 1.22, 1.78, 1.95, 1.92, 1.90, 1.94],
  [0.96, 0.97, 0.99, 1.01, 1.00, 1.01, 1.02, 1.04, 1.06, 1.08, 1.10, 1.09, 1.25, 1.38, 1.36, 1.32, 1.26, 1.22, 1.18, 1.14, 1.10, 1.08, 1.12, 1.62, 1.76, 1.74, 1.72, 1.76],
  [0.97, 0.98, 1.00, 1.02, 1.02, 1.03, 1.04, 1.06, 1.09, 1.12, 1.14, 1.13, 1.35, 1.52, 1.50, 1.45, 1.38, 1.33, 1.28, 1.22, 1.18, 1.16, 1.20, 1.80, 2.02, 2.00, 1.98, 2.02],
  [0.94, 0.96, 0.98, 0.99, 1.00, 0.99, 1.00, 1.01, 1.03, 1.05, 1.06, 1.05, 1.15, 1.25, 1.22, 1.18, 1.12, 1.08, 1.04, 1.00, 0.96, 0.94, 0.98, 1.48, 1.62, 1.60, 1.58, 1.62],
];
const G_X_TICKS = [0, 500, 1000, 1500, 2000, 2500, 3000];
const G_Y_TICKS = [0.7, 1.0, 1.3, 1.6, 1.9, 2.2, 2.5, 2.8];
const G_X_MAX = 3190;
const G_EVENTS = [
  { label: '1 μM SCH23390', from: 0, to: 2590, level: 2.15, shade: false, align: 'left', inset: 7 },
  { label: '10 μM DA', from: 550, to: 890, level: 2.46, shade: true, align: 'center' },
  { label: '10 μM NA', from: 1370, to: 1620, level: 2.46, shade: true, align: 'center' },
  { label: '12 μM FSK', from: 2620, to: 3170, level: 2.6, shade: true, align: 'center' },
];

// ---------------- Panel H: amplitude bar chart ----------------
const BAR_CATEGORIES = ['NA', 'ISO', 'DA', 'SKF'];
const BAR_SERIES = ['control', 'SCH23390', 'propranolol', 'CGP20712'];
const CONTROL_VALUES = [62.0, 48.1, 49.3, 20.0];
const CONTROL_ERRORS = [2.8, 1.6, 2.0, 1.3];
const SCH_VALUES = [51.6, 60.5, 3.5, 3.9];
const SCH_ERRORS = [4.3, 2.3, 1.2, 0.3];
const PROP_VALUES = [6.0, 4.2, 9.8, 8.5];
const PROP_ERRORS = [1.0, 1.2, 1.3, 2.1];
const CGP_VALUES: (number | null)[] = [9.0, null, 11.0, 11.0];
const CGP_ERRORS: (number | null)[] = [1.9, null, 2.6, 1.5];
const CONTROL_STARS = [false, false, false, false];
const SCH_STARS = [false, false, true, true];
const PROP_STARS = [true, true, true, true];
const CGP_STARS = [true, false, true, true];
const BAR_Y_TICKS = [0, 10, 20, 30, 40, 50, 60, 70];

// ---------------- layout & style (not data) ----------------
const SHADE = 'rgba(0,0,0,0.145)';
const TEXT = '#111';
const BAR_FILLS = ['#000000', '#404040', '#a6a6a6', '#ffffff'];

type Ev = { label: string; from: number; to: number; level: number; shade: boolean; align: string; inset?: number };
type Box = { x: number; y: number; w: number; h: number };
type Area = { l: number; t: number; r: number; b: number };
type TracePanel = {
  time: number[]; mean: number[]; cells: number[][]; xTicks: number[]; yTicks: number[]; xMax: number; events: Ev[];
  box: Box; area: Area; yTitleX: number; xTitleY: number; cellColor: string;
};

const PANELS: TracePanel[] = [
  { time: A_TIME, mean: A_MEAN, cells: A_CELLS, xTicks: A_X_TICKS, yTicks: A_Y_TICKS, xMax: A_X_MAX, events: A_EVENTS,
    box: { x: 0, y: 0, w: 387, h: 232 }, area: { l: 51, t: 18, r: 355, b: 197 }, yTitleX: 15.5, xTitleY: 222, cellColor: 'rgba(120,120,120,0.75)' },
  { time: B_TIME, mean: B_MEAN, cells: B_CELLS, xTicks: B_X_TICKS, yTicks: B_Y_TICKS, xMax: B_X_MAX, events: B_EVENTS,
    box: { x: 387, y: 0, w: 387, h: 232 }, area: { l: 427, t: 11.7, r: 743.7, b: 196.7 }, yTitleX: 395, xTitleY: 222, cellColor: 'rgba(120,120,120,0.75)' },
  { time: C_TIME, mean: C_MEAN, cells: C_CELLS, xTicks: C_X_TICKS, yTicks: C_Y_TICKS, xMax: C_X_MAX, events: C_EVENTS,
    box: { x: 0, y: 226, w: 387, h: 226 }, area: { l: 51.7, t: 241, r: 365, b: 416 }, yTitleX: 12.5, xTitleY: 441.7, cellColor: 'rgba(85,85,85,0.85)' },
  { time: D_TIME, mean: D_MEAN, cells: D_CELLS, xTicks: D_X_TICKS, yTicks: D_Y_TICKS, xMax: D_X_MAX, events: D_EVENTS,
    box: { x: 387, y: 226, w: 387, h: 226 }, area: { l: 428.7, t: 240, r: 745, b: 416.7 }, yTitleX: 391, xTitleY: 443, cellColor: 'rgba(105,105,105,0.75)' },
  { time: E_TIME, mean: E_MEAN, cells: E_CELLS, xTicks: E_X_TICKS, yTicks: E_Y_TICKS, xMax: E_X_MAX, events: E_EVENTS,
    box: { x: 0, y: 455, w: 387, h: 228 }, area: { l: 49.3, t: 471.7, r: 356.7, b: 646.7 }, yTitleX: 15, xTitleY: 673, cellColor: 'rgba(105,105,105,0.75)' },
  { time: F_TIME, mean: F_MEAN, cells: F_CELLS, xTicks: F_X_TICKS, yTicks: F_Y_TICKS, xMax: F_X_MAX, events: F_EVENTS,
    box: { x: 387, y: 448, w: 387, h: 235 }, area: { l: 428.7, t: 463.3, r: 740.3, b: 645.7 }, yTitleX: 391, xTitleY: 673, cellColor: 'rgba(115,115,115,0.75)' },
  { time: G_TIME, mean: G_MEAN, cells: G_CELLS, xTicks: G_X_TICKS, yTicks: G_Y_TICKS, xMax: G_X_MAX, events: G_EVENTS,
    box: { x: 0, y: 680, w: 387, h: 239 }, area: { l: 49.3, t: 692.3, r: 362.7, b: 877.3 }, yTitleX: 9.5, xTitleY: 909, cellColor: 'rgba(125,125,125,0.75)' },
];

const BAR_BOX: Box = { x: 387, y: 688, w: 400, h: 231 };
const BAR_AREA: Area = { l: 458, t: 709, r: 778, b: 881 };
const BAR_Y_TITLE_X = 426;

const HALF_LINE = 13 * 1.2 / 2;

function makeEventPlugin(events: Ev[]) {
  return {
    id: 'eventMarks',
    beforeDraw(chart: any) {
      const { ctx, scales } = chart;
      const x = scales.x, y = scales.y;
      ctx.save();
      ctx.fillStyle = SHADE;
      for (const ev of events) {
        if (!ev.shade) continue;
        const x0 = x.getPixelForValue(ev.from);
        const x1 = x.getPixelForValue(ev.to);
        const yt = y.getPixelForValue(ev.level);
        const yb = y.getPixelForValue(y.min);
        ctx.fillRect(x0, yt, x1 - x0, yb - yt);
      }
      ctx.restore();
    },
    afterDatasetsDraw(chart: any) {
      const { ctx, scales } = chart;
      const x = scales.x, y = scales.y;
      ctx.save();
      ctx.strokeStyle = '#000';
      ctx.lineWidth = 2.6;
      ctx.font = `13px ${FONT}`;
      ctx.fillStyle = TEXT;
      ctx.textBaseline = 'alphabetic';
      for (const ev of events) {
        const x0 = x.getPixelForValue(ev.from);
        const x1 = x.getPixelForValue(ev.to);
        const yy = y.getPixelForValue(ev.level);
        ctx.beginPath();
        ctx.moveTo(x0, yy);
        ctx.lineTo(x1, yy);
        ctx.stroke();
        if (ev.align === 'left') {
          ctx.textAlign = 'left';
          ctx.fillText(ev.label, x0 + (ev.inset ?? 5), yy - 6);
        } else {
          ctx.textAlign = 'center';
          ctx.fillText(ev.label, (x0 + x1) / 2, yy - 6);
        }
      }
      ctx.restore();
    },
  };
}

function traceConfig(p: TracePanel): any {
  const c = p.box, a = p.area;
  const font = { family: FONT, size: 13 };
  const datasets: any[] = [
    { data: p.time.map((t, i) => ({ x: t, y: p.mean[i] })), borderColor: '#000', borderWidth: 3, pointRadius: 0, order: 0, borderJoinStyle: 'round' },
    ...p.cells.map((cell) => ({
      data: p.time.map((t, i) => ({ x: t, y: cell[i] })), borderColor: p.cellColor, borderWidth: 1, pointRadius: 0, order: 1,
    })),
  ];
  return {
    type: 'line',
    data: { datasets },
    options: {
      animation: false,
      responsive: false,
      maintainAspectRatio: false,
      layout: { padding: { left: 0, top: a.t - c.y, right: c.x + c.w - a.r, bottom: 0 } },
      plugins: { legend: { display: false }, tooltip: { enabled: false } },
      scales: {
        x: {
          type: 'linear', min: 0, max: p.xMax,
          afterBuildTicks: (s: any) => { s.ticks = p.xTicks.map((v) => ({ value: v })); },
          afterFit: (s: any) => { s.height = c.y + c.h - a.b; },
          grid: { drawOnChartArea: false, drawTicks: true, tickLength: 3, color: '#000', lineWidth: 1 },
          border: { color: '#000', width: 1.5 },
          ticks: { font, color: TEXT, padding: 0, maxRotation: 0, autoSkip: false, callback: (v: any) => String(v) },
          title: { display: true, text: 'Time (s)', font, color: TEXT, padding: { top: 0, bottom: c.y + c.h - p.xTitleY - HALF_LINE } },
        },
        y: {
          type: 'linear', min: p.yTicks[0], max: p.yTicks[p.yTicks.length - 1],
          afterBuildTicks: (s: any) => { s.ticks = p.yTicks.map((v) => ({ value: v })); },
          afterFit: (s: any) => { s.width = a.l - c.x; },
          grid: { drawOnChartArea: false, drawTicks: true, tickLength: 4, color: '#000', lineWidth: 1 },
          border: { color: '#000', width: 1.5 },
          ticks: { font, color: TEXT, padding: 3, autoSkip: false, callback: (v: any) => Number(v).toFixed(1) },
          title: { display: true, text: 'normalized fluorescence', font, color: TEXT, padding: { top: p.yTitleX - c.x - HALF_LINE, bottom: 0 } },
        },
      },
    },
    plugins: [makeEventPlugin(p.events)],
  };
}

const BAR_VALUES = [CONTROL_VALUES, SCH_VALUES, PROP_VALUES, CGP_VALUES];
const BAR_ERRORS = [CONTROL_ERRORS, SCH_ERRORS, PROP_ERRORS, CGP_ERRORS];
const BAR_STARS = [CONTROL_STARS, SCH_STARS, PROP_STARS, CGP_STARS];

const barExtrasPlugin = {
  id: 'barExtras',
  afterDatasetsDraw(chart: any) {
    const { ctx, scales, chartArea } = chart;
    const y = scales.y;
    ctx.save();
    ctx.strokeStyle = '#000';
    ctx.lineWidth = 1;
    ctx.fillStyle = TEXT;
    BAR_VALUES.forEach((vals, di) => {
      const meta = chart.getDatasetMeta(di);
      vals.forEach((v, j) => {
        const el = meta.data[j];
        const cx = el.x;
        if (v == null) {
          ctx.font = `13px ${FONT}`;
          ctx.textAlign = 'center';
          ctx.textBaseline = 'alphabetic';
          ctx.fillText('ND', cx + 2, y.getPixelForValue(0) - 1);
          return;
        }
        const e = (BAR_ERRORS[di][j] as number) || 0;
        const yt = y.getPixelForValue(v + e);
        const yb = y.getPixelForValue(Math.max(0, v - e));
        ctx.beginPath();
        ctx.moveTo(cx, yt); ctx.lineTo(cx, yb);
        ctx.moveTo(cx - 3, yt); ctx.lineTo(cx + 3, yt);
        ctx.moveTo(cx - 3, yb); ctx.lineTo(cx + 3, yb);
        ctx.stroke();
        if (BAR_STARS[di][j]) {
          ctx.font = `18px ${FONT}`;
          ctx.textAlign = 'center';
          ctx.textBaseline = 'alphabetic';
          ctx.fillText('*', cx, yt - 2);
        }
      });
    });
    const lx = chartArea.left + 230.7;
    const ly = chartArea.top + 21;
    ctx.font = `13px ${FONT}`;
    ctx.textAlign = 'left';
    ctx.textBaseline = 'middle';
    BAR_SERIES.forEach((name, i) => {
      const cy = ly + i * 13.4;
      ctx.fillStyle = BAR_FILLS[i];
      ctx.fillRect(lx, cy - 5.5, 11, 11);
      if (i === 3) { ctx.strokeStyle = '#000'; ctx.lineWidth = 1; ctx.strokeRect(lx + 0.5, cy - 5, 10, 10); }
      ctx.fillStyle = TEXT;
      ctx.fillText(name, lx + 14, cy + 0.5);
    });
    ctx.restore();
  },
};

function barConfig(): any {
  const c = BAR_BOX, a = BAR_AREA;
  const font = { family: FONT, size: 13 };
  return {
    type: 'bar',
    data: {
      labels: BAR_CATEGORIES,
      datasets: BAR_SERIES.map((name, i) => ({
        label: name, data: BAR_VALUES[i], backgroundColor: BAR_FILLS[i], borderColor: '#000',
        borderWidth: i === 3 ? 1 : 0, barPercentage: 1, categoryPercentage: 0.7,
      })),
    },
    options: {
      animation: false,
      responsive: false,
      maintainAspectRatio: false,
      layout: { padding: { left: 0, top: a.t - c.y, right: c.x + c.w - a.r, bottom: 0 } },
      plugins: { legend: { display: false }, tooltip: { enabled: false } },
      scales: {
        x: {
          afterFit: (s: any) => { s.height = c.y + c.h - a.b; },
          grid: { offset: true, drawOnChartArea: false, drawTicks: true, tickLength: 5, color: '#000' },
          border: { color: '#000', width: 1.5 },
          ticks: { font, color: TEXT, padding: 0 },
        },
        y: {
          min: 0, max: 70,
          afterBuildTicks: (s: any) => { s.ticks = BAR_Y_TICKS.map((v) => ({ value: v })); },
          afterFit: (s: any) => { s.width = a.l - c.x; },
          grid: { drawOnChartArea: false, drawTicks: true, tickLength: 4, color: '#000' },
          border: { color: '#000', width: 1.5 },
          ticks: { font, color: TEXT, padding: 3, callback: (v: any) => String(v) },
          title: { display: true, text: 'Amplitude normalized to FSK (%)', font, color: TEXT, padding: { top: BAR_Y_TITLE_X - c.x - HALF_LINE, bottom: 0 } },
        },
      },
    },
    plugins: [barExtrasPlugin],
  };
}

function ChartCanvas({ box, build }: { box: Box; build: () => any }) {
  const ref = useRef<HTMLCanvasElement>(null);
  useEffect(() => {
    const chart = new Chart(ref.current as HTMLCanvasElement, build());
    return () => chart.destroy();
  }, []);
  return (
    <canvas
      ref={ref}
      width={box.w}
      height={box.h}
      style={{ position: 'absolute', left: box.x, top: box.y, width: box.w, height: box.h }}
    />
  );
}

export default function App() {
  return (
    <div style={{ position: 'absolute', left: 0, top: 0, width: 774, height: 919, overflow: 'hidden', background: '#fff' }}>
      {PANELS.map((p, i) => (
        <ChartCanvas key={i} box={p.box} build={() => traceConfig(p)} />
      ))}
      <ChartCanvas box={BAR_BOX} build={barConfig} />
    </div>
  );
}
